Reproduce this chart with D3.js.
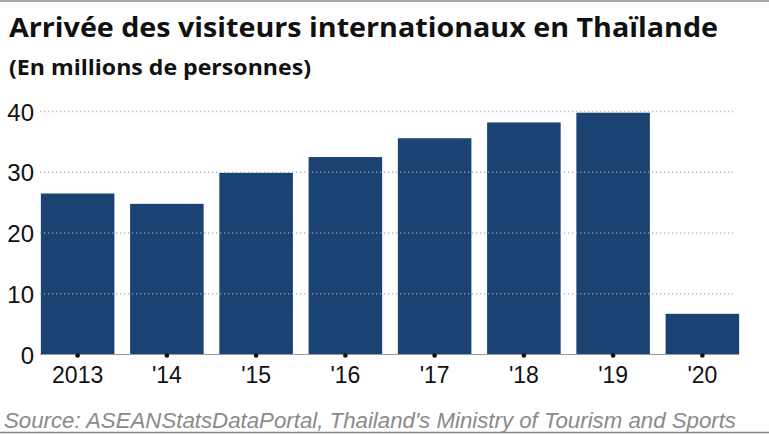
<!DOCTYPE html>
<html>
<head>
<meta charset="utf-8">
<script src="https://cdn.jsdelivr.net/npm/d3@7"></script>
<style>
  body { margin: 0; background: #fff; }
  svg { display: block; }
</style>
</head>
<body>
<svg id="chart" width="769" height="434"></svg>
<script>
// data
var years = ['2013', '2014', '2015', '2016', '2017', '2018', '2019', '2020'];
var yearLabels = ['2013', "'14", "'15", "'16", "'17", "'18", "'19", "'20"];
var visitors = [26.5, 24.8, 29.9, 32.5, 35.6, 38.2, 39.8, 6.7];
var yTicks = [0, 10, 20, 30, 40];

var width = 769, height = 434;
var barColor = '#1a4373';

var svg = d3.select('#chart');

var xScale = d3.scaleBand()
    .domain(years)
    .range([33, 747])
    .paddingInner(0.176)
    .paddingOuter(0.088);

var yScale = d3.scaleLinear()
    .domain([0, 40])
    .range([354.5, 111.5]);

// frame lines top and bottom
svg.append('line')
    .attr('x1', 0).attr('x2', width)
    .attr('y1', 1).attr('y2', 1)
    .style('stroke', '#888').style('stroke-width', 1.5);
svg.append('line')
    .attr('x1', 0).attr('x2', width)
    .attr('y1', 432.5).attr('y2', 432.5)
    .style('stroke', '#888').style('stroke-width', 1.5);

// title
svg.append('text')
    .attr('x', 9).attr('y', 37)
    .style('font-family', '"Open Sans", sans-serif')
    .style('font-weight', 'bold')
    .style('font-size', '26.5px')
    .style('fill', '#111')
    .attr('textLength', 709)
    .attr('lengthAdjust', 'spacingAndGlyphs')
    .text('Arrivée des visiteurs internationaux en Thaïlande');

svg.append('text')
    .attr('x', 9).attr('y', 75)
    .style('font-family', '"Open Sans", sans-serif')
    .style('font-weight', 'bold')
    .style('font-size', '21px')
    .style('fill', '#111')
    .attr('textLength', 302)
    .attr('lengthAdjust', 'spacingAndGlyphs')
    .text('(En millions de personnes)');

// bars
svg.append('g')
    .attr('id', 'bars')
    .selectAll('rect')
    .data(visitors)
    .enter().append('rect')
    .attr('x', function (d, i) { return xScale(years[i]); })
    .attr('width', xScale.bandwidth())
    .attr('y', function (d) { return yScale(d); })
    .attr('height', function (d) { return yScale(0) - yScale(d); })
    .style('fill', barColor);

// dotted gridlines, drawn over the bars
var grid = svg.append('g').attr('id', 'grid');
grid.selectAll('line')
    .data(yTicks.filter(function (d) { return d > 0; }))
    .enter().append('line')
    .attr('x1', 40).attr('x2', 733)
    .attr('y1', function (d) { return yScale(d); })
    .attr('y2', function (d) { return yScale(d); })
    .style('stroke', '#aaa')
    .style('stroke-opacity', 0.8)
    .style('stroke-width', 1.3)
    .style('stroke-dasharray', '1.3,2.7');

// baseline
svg.append('line')
    .attr('x1', 40).attr('x2', 739)
    .attr('y1', yScale(0)).attr('y2', yScale(0))
    .style('stroke', '#999').style('stroke-width', 1);

// y axis labels
var yAxis = d3.axisLeft(yScale)
    .tickValues(yTicks)
    .tickSize(0)
    .tickPadding(0);
var yg = svg.append('g')
    .attr('transform', 'translate(34,0)')
    .call(yAxis);
yg.select('.domain').remove();
yg.selectAll('text')
    .attr('dy', '0.36em')
    .style('font-family', '"Liberation Sans", Arial, sans-serif')
    .style('font-size', '24px')
    .style('fill', '#111');

// x axis: dots at band centres and labels
var xAxis = d3.axisBottom(xScale)
    .tickSize(0)
    .tickPadding(12)
    .tickFormat(function (d, i) { return yearLabels[i]; });
var xg = svg.append('g')
    .attr('transform', 'translate(0,' + yScale(0) + ')')
    .call(xAxis);
xg.select('.domain').remove();
xg.selectAll('.tick')
    .append('circle')
    .attr('cx', 0).attr('cy', 1)
    .attr('r', 2.3)
    .style('fill', '#111');
xg.selectAll('text')
    .attr('dy', '0.71em')
    .style('font-family', '"Liberation Sans", Arial, sans-serif')
    .style('font-size', '23px')
    .style('fill', '#111');

// source line
svg.append('text')
    .attr('x', 4).attr('y', 428)
    .style('font-family', '"Liberation Sans", Arial, sans-serif')
    .style('font-style', 'italic')
    .style('font-size', '21.5px')
    .style('fill', '#8a8a8a')
    .attr('textLength', 732)
    .attr('lengthAdjust', 'spacingAndGlyphs')
    .text("Source: ASEANStatsDataPortal, Thailand's Ministry of Tourism and Sports");
</script>
</body>
</html>
